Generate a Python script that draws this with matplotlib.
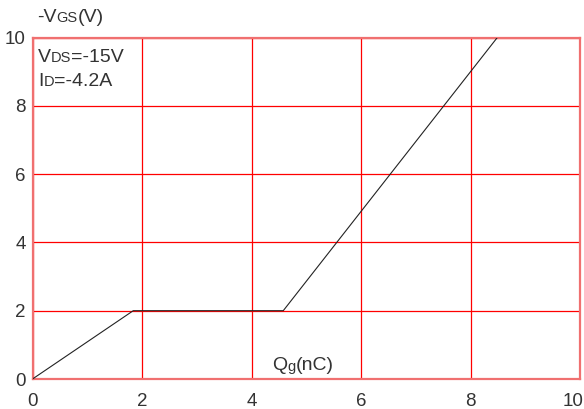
import matplotlib
matplotlib.use("Agg")
import matplotlib.pyplot as plt
import matplotlib.transforms as mtransforms
from matplotlib.offsetbox import TextArea, HPacker, AnchoredOffsetbox

# gate charge curve
qg = [0, 1.84, 4.58, 8.49]
vgs = [0, 2, 2, 10]
xticks = [0, 2, 4, 6, 8, 10]
yticks = [0, 2, 4, 6, 8, 10]

plt.rcParams['font.family'] = ['Liberation Sans', 'DejaVu Sans']
txt = '#333333'
big, small = 14, 10.5

fig = plt.figure(figsize=(5.84, 4.09), dpi=100)
ax = fig.add_axes([32.5 / 584, 1 - 379 / 409, 547.5 / 584, 341.5 / 409])

ax.plot(qg, vgs, color='#222222', lw=0.8, zorder=3)

ax.set_xlim(0, 10)
ax.set_ylim(0, 10)
ax.set_xticks(xticks)
ax.set_yticks(yticks)
ax.grid(True, color='red', lw=0.9)
ax.tick_params(length=0, labelsize=13.5, colors=txt)
ax.tick_params(axis='x', pad=10)
ax.tick_params(axis='y', pad=5)
for s in ax.spines.values():
    s.set_color('#f07070')
    s.set_linewidth(1.6)

# last x label would run off the figure, pull it in against the edge
last = ax.get_xticklabels()[-1]
last.set_horizontalalignment('right')
last.set_transform(last.get_transform() +
                   mtransforms.ScaledTranslation(0.035, 0, fig.dpi_scale_trans))


def mixed(parts, loc_xy, trans):
    # pieces of text with different sizes on one baseline
    boxes = [TextArea(t, textprops=dict(size=sz, color=txt)) for t, sz in parts]
    pack = HPacker(children=boxes, align='baseline', pad=0, sep=0)
    ab = AnchoredOffsetbox(loc='center left', child=pack, frameon=False,
                           bbox_to_anchor=loc_xy, bbox_transform=trans,
                           pad=0, borderpad=0)
    ab.set_clip_on(False)
    ax.add_artist(ab)


mixed([('-V', big), ('GS', small), ('(V)', big)], (37 / 584, 1 - 18 / 409), fig.transFigure)
mixed([('V', big), ('DS', small), ('=-15V', big)], (38 / 584, 1 - 58 / 409), fig.transFigure)
mixed([('I', big), ('D', small), ('=-4.2A', big)], (38 / 584, 1 - 82 / 409), fig.transFigure)
mixed([('Q', big), ('g', small), ('(nC)', big)], (272 / 584, 1 - 366 / 409), fig.transFigure)

fig.savefig('out.png', dpi=100)
